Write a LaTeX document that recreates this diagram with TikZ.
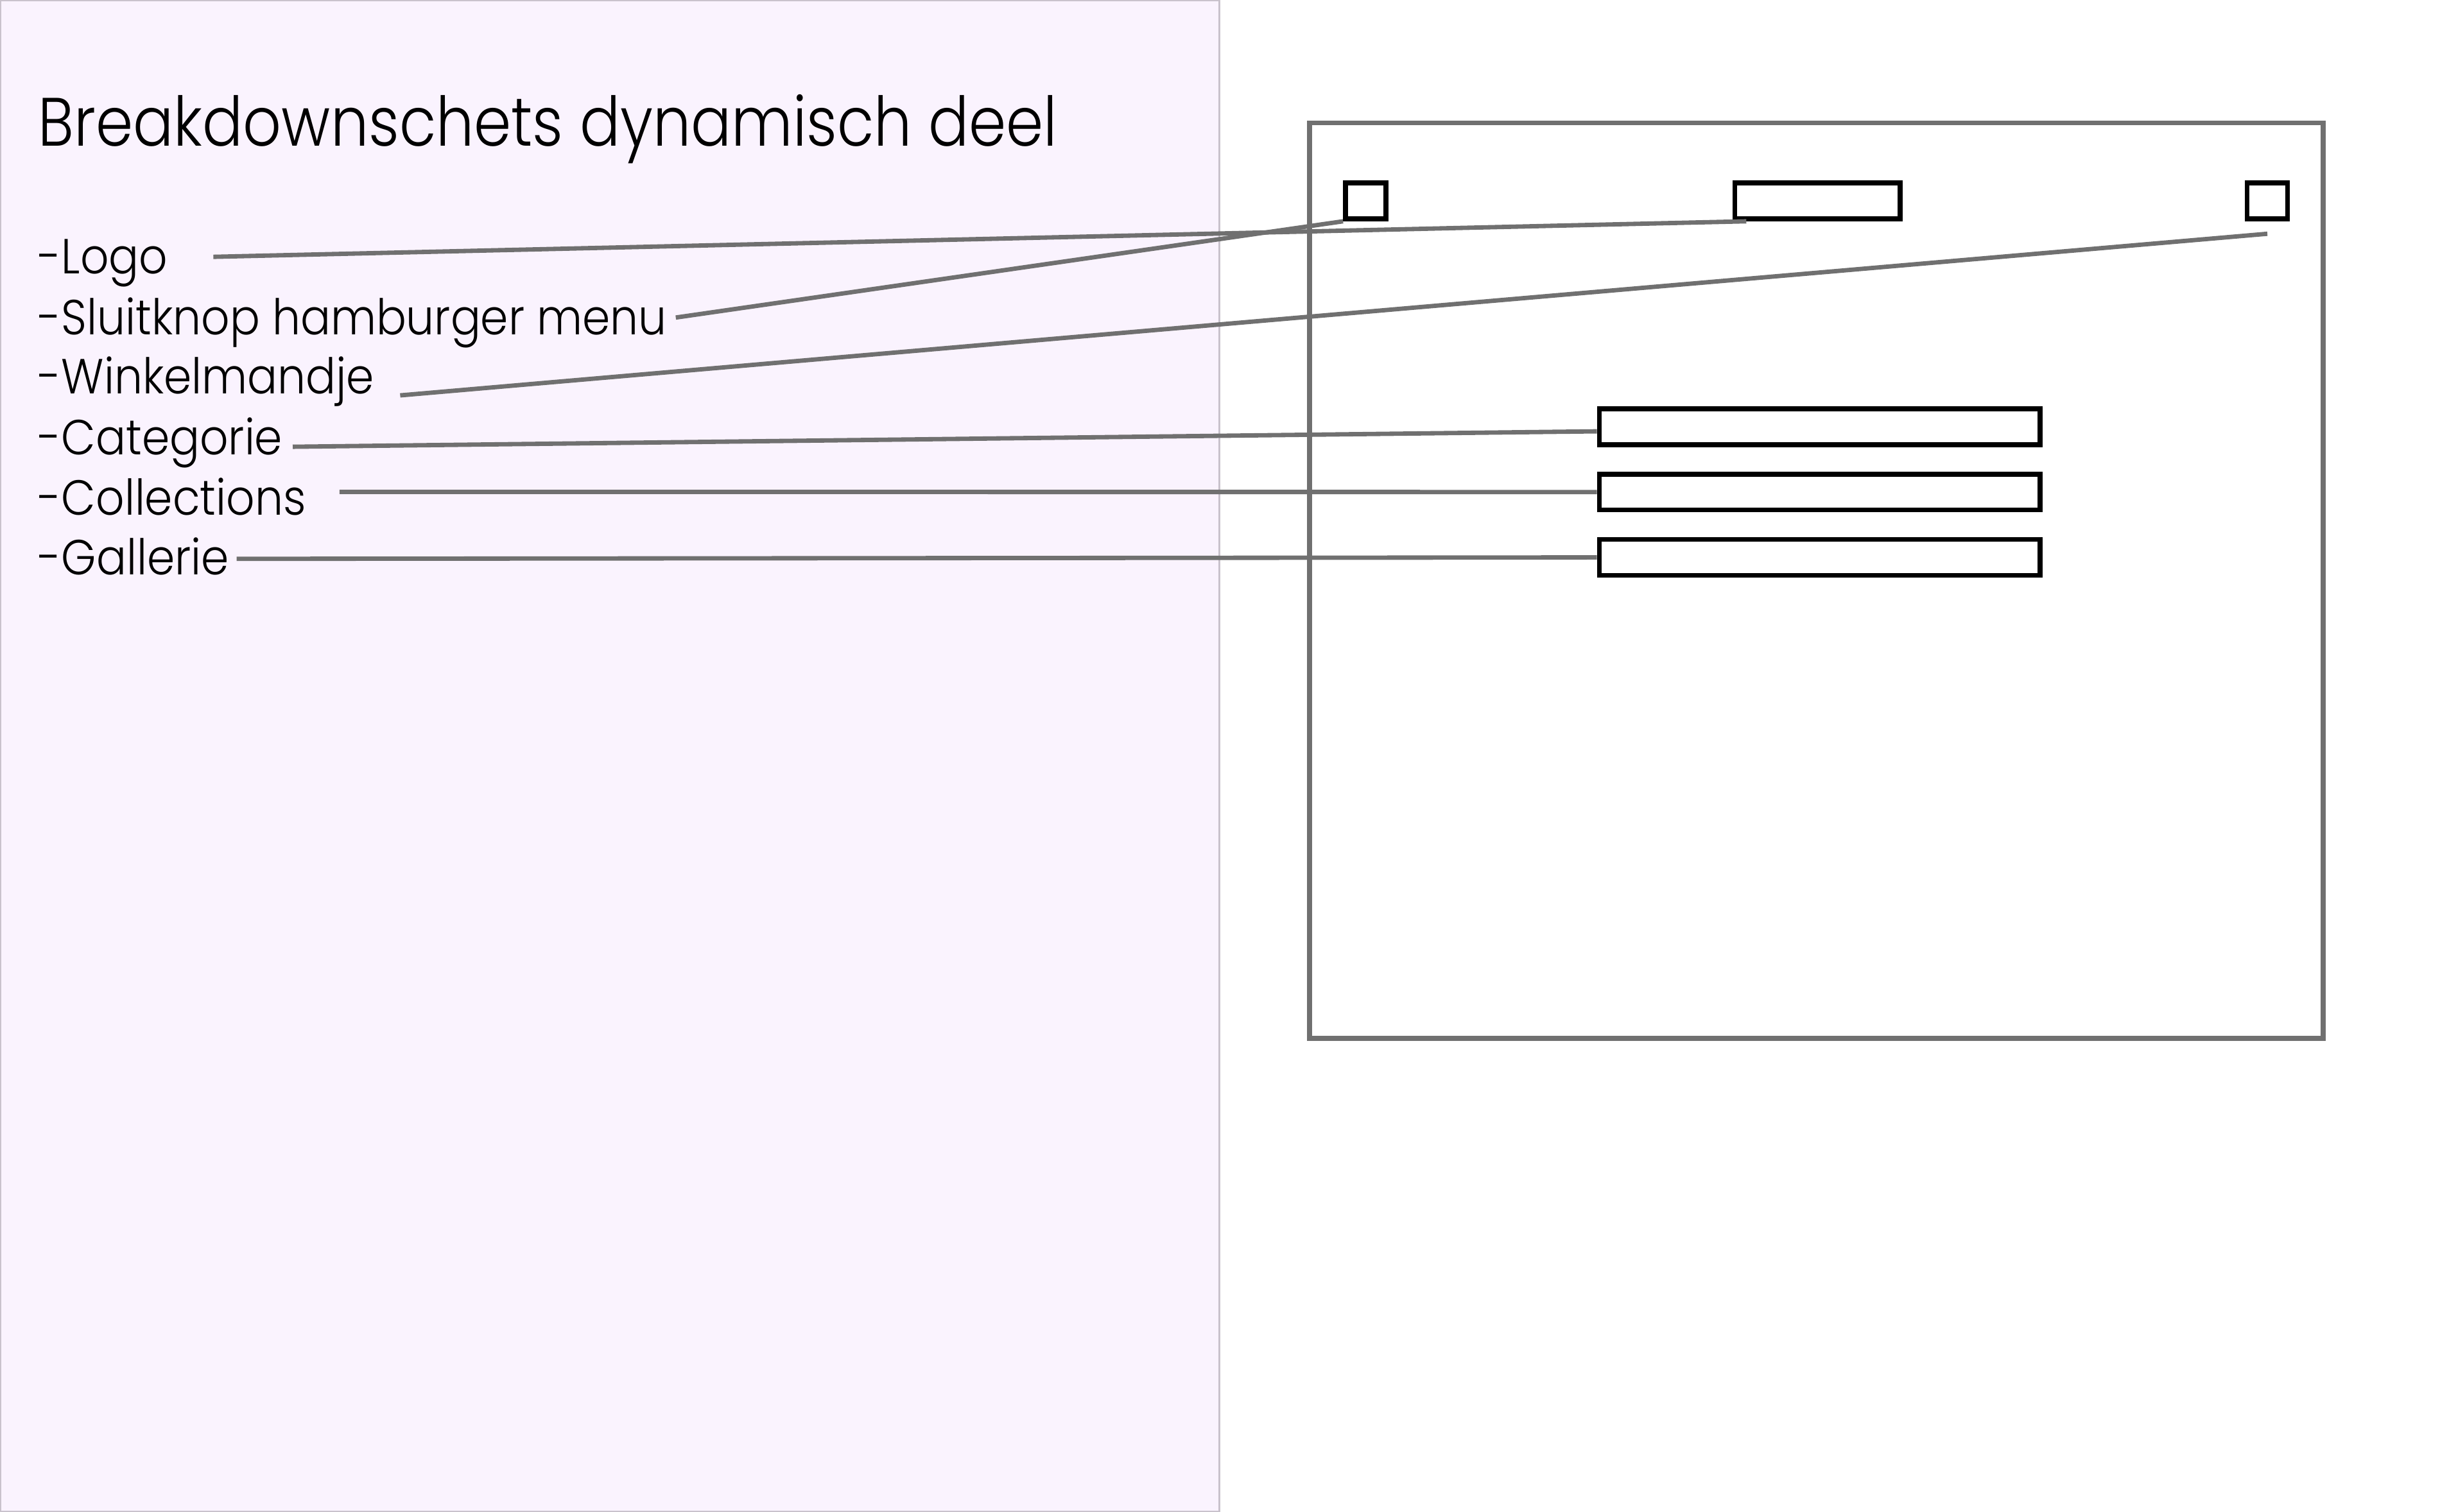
\documentclass[tikz,border=0pt]{standalone}
\usepackage{fontspec}
\setmainfont{Poppins Light}
\newfontfamily\TitleFont{Poppins Light}[FakeStretch=0.877]
\newfontfamily\ItemFont{Poppins Light}[FakeStretch=0.905]
\usepackage{xcolor}
\usepackage{tikz}
\usetikzlibrary{positioning}
\definecolor{panelfill}{HTML}{FAF3FE}
\definecolor{panelline}{HTML}{C9C2CC}
\definecolor{linegray}{HTML}{707070}

\begin{document}
\begin{tikzpicture}[
x=0.01cm, y=-0.01cm,
Panel/.style={draw=panelline,fill=panelfill,line width=0.4pt},
Frame/.style={draw=linegray,line width=0.9pt},
Blocks/.style={draw=black,line width=0.9pt,fill=white,inner sep=0pt,anchor=north west},
Pointers/.style={draw=linegray,line width=0.8pt},
Items/.style={anchor=base west,inner sep=0pt,font=\ItemFont\fontsize{9}{11}\selectfont}
]
\useasboundingbox (0,0) rectangle (1567,971);

% left panel with the list
\draw[Panel] (0,0) rectangle (783,971);
\node[anchor=base west,inner sep=0pt,font=\TitleFont\fontsize{12.5}{15}\selectfont] (title) at (24,94) {Breakdownschets dynamisch deel};

\node[Items] (logo) at (24,176) {-Logo};
\node[Items] (sluit) at (24,215) {-Sluitknop hamburger menu};
\node[Items] (winkel) at (24,253) {-Winkelmandje};
\node[Items] (cat) at (24,292) {-Categorie};
\node[Items] (coll) at (24,331) {-Collections};
\node[Items] (gal) at (24,369) {-Gallerie};

% the screen
\draw[Frame] (841,79) rectangle (1492,667);

\node[Blocks,minimum width=0.26cm,minimum height=0.23cm] (boxL) at (862.5,116) {};
\node[Blocks,minimum width=1.06cm,minimum height=0.23cm] (boxM) at (1112.5,116) {};
\node[Blocks,minimum width=0.26cm,minimum height=0.23cm] (boxR) at (1441.5,116) {};

\node[Blocks,minimum width=2.83cm,minimum height=0.23cm] (barA) at (1025.5,261) {};
\node[Blocks,minimum width=2.83cm,minimum height=0.23cm] (barB) at (1025.5,303) {};
\node[Blocks,minimum width=2.83cm,minimum height=0.23cm] (barC) at (1025.5,345) {};

% start points of the pointer lines
\coordinate (pLogo) at (137,165);
\coordinate (pSluit) at (434,204);
\coordinate (pWinkel) at (257,254);
\coordinate (pCat) at (188,287);
\coordinate (pColl) at (218,316);
\coordinate (pGal) at (152,359);

\draw[Pointers] (pLogo) -- ([xshift=0.09cm]boxM.south west);
\draw[Pointers] (pSluit) -- (boxL.south west);
\draw[Pointers] (pWinkel) -- ([yshift=-0.08cm]boxR.south);
\draw[Pointers] (pCat) -- ([yshift=-0.03cm]barA.west);
\draw[Pointers] (pColl) -- (barB.west);
\draw[Pointers] (pGal) -- (barC.west);

\end{tikzpicture}
\end{document}
